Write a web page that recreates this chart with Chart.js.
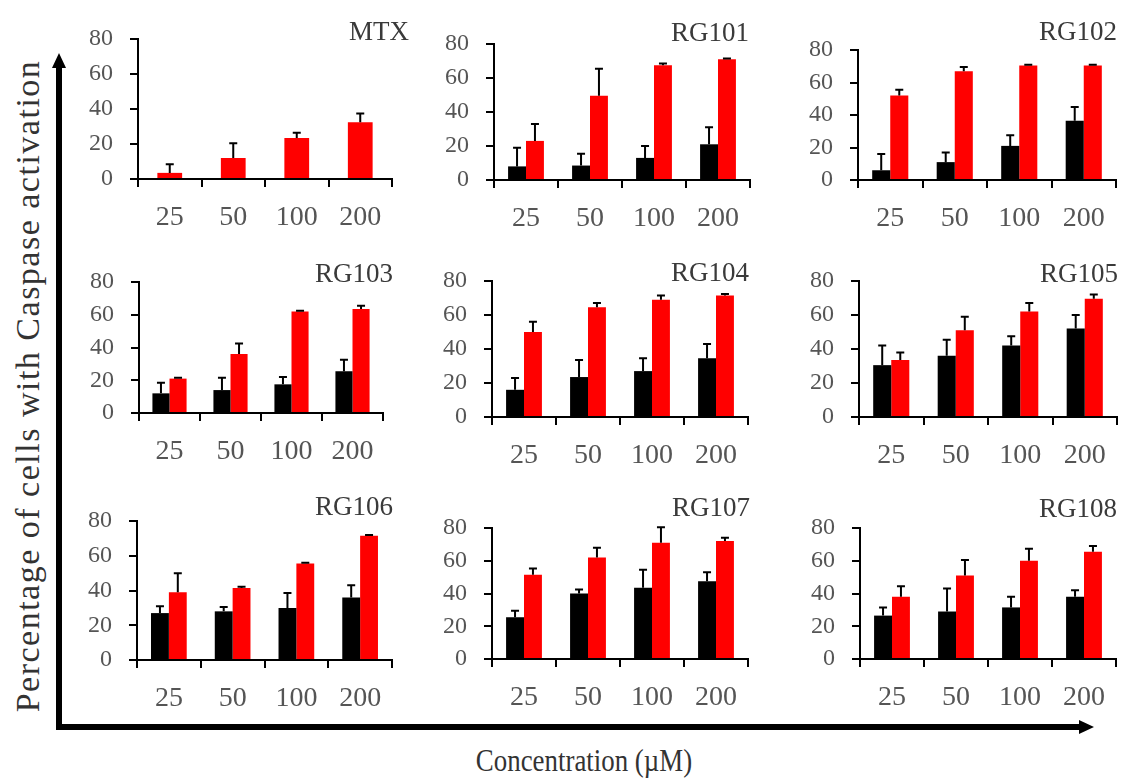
<!DOCTYPE html>
<html>
<head>
<meta charset="utf-8">
<script src="https://cdn.jsdelivr.net/npm/chart.js@4.4.0/dist/chart.umd.min.js"></script>
<style>
    body { margin: 0; background: #fff; width: 1123px; height: 781px; position: relative; overflow: hidden; font-family: 'Liberation Serif', serif; }
    canvas.panel { position: absolute; }
    #arrows { position: absolute; left: 0; top: 0; }
    #ylab, #xlab { position: absolute; white-space: nowrap; color: #333; }
    #ylab { left: 28px; top: 386px; font-size: 34px; letter-spacing: 1.5px; transform: translate(-50%, -50%) rotate(-90deg); }
    #xlab { left: 584px; top: 760px; font-size: 32px; transform: translate(-50%, -50%) scaleX(0.84); }
</style>
</head>
<body>
<svg id="arrows" width="1123" height="781">
    <line x1="59" y1="730" x2="59" y2="64" stroke="#000" stroke-width="6"/>
    <polygon points="59,53 52,68 66,68" fill="#000"/>
    <line x1="56" y1="727" x2="1082" y2="727" stroke="#000" stroke-width="6"/>
    <polygon points="1094,727 1079,720 1079,734" fill="#000"/>
</svg>
<div id="ylab">Percentage of cells with Caspase activation</div>
<div id="xlab">Concentration (µM)</div>

<script>
const concentrations = ['25', '50', '100', '200'];
const compounds = ['MTX', 'RG101', 'RG102', 'RG103', 'RG104', 'RG105', 'RG106', 'RG107', 'RG108'];
const yMin = 0;
const yMax = 80;
const yStep = 20;

// black bars (MTX has none)
const blackMeans = [
    null,
    [8, 8.5, 13, 21],
    [6, 11, 21, 36.5],
    [12, 14, 17.5, 25.5],
    [16, 23.5, 27, 34.5],
    [30.5, 36, 42, 52],
    [27, 28, 30, 36],
    [25.5, 40, 43.5, 47.5],
    [26.5, 29, 31.5, 38]
];
const blackErrs = [
    null,
    [11, 7, 7, 10],
    [10, 6, 6.5, 8.5],
    [6.5, 7.5, 4.5, 7],
    [7, 10, 7.5, 8.5],
    [11.5, 9.5, 5.5, 8],
    [4, 2.5, 8.5, 7],
    [4, 2.5, 11, 5.5],
    [5, 14, 6.5, 4]
];
// red bars
const redMeans = [
    [3.5, 12, 23.5, 32.5],
    [23, 49.5, 67.5, 71],
    [52, 67, 70.5, 70.5],
    [21, 36, 62, 63.5],
    [50, 64.5, 69, 71.5],
    [33.5, 51, 62, 69.5],
    [39, 41.5, 55.5, 71.5],
    [51.5, 62, 71, 72],
    [38, 51, 60, 65.5]
];
const redErrs = [
    [5, 8.5, 3, 5],
    [10, 16, 1, 0.5],
    [3.5, 2.5, 0.5, 0.5],
    [0.5, 6.5, 0.5, 2],
    [6, 2.5, 2.5, 0.8],
    [4.5, 8, 5, 2.5],
    [11, 0.6, 0.4, 0.4],
    [3.7, 6, 9.5, 2],
    [6.5, 9.5, 7.3, 3.5]
];

// page layout: plot area [left, top, right, bottom] and title anchor [right, baseline]
const plotBoxes = [
    [138, 39, 392, 179], [494, 44, 750, 180], [858, 50, 1116, 180],
    [139, 282, 383, 413], [492, 281, 748, 417], [859, 281, 1117, 417],
    [137, 521, 392, 660], [492, 528, 748, 659], [860, 528, 1116, 659]
];
const titleAnchors = [
    [409, 40], [749, 41], [1117, 40],
    [393, 282], [749, 281], [1118, 282],
    [393, 515], [750, 516], [1117, 517]
];

const ML = 70, MT = 45, MR = 30, MB = 60;

// upward-only error bars with a cap
const errorBars = {
    id: 'errorBars',
    afterDatasetsDraw(chart) {
        const ctx = chart.ctx;
        const yScale = chart.scales.y;
        ctx.save();
        ctx.strokeStyle = '#000';
        ctx.lineWidth = 2;
        chart.data.datasets.forEach((ds, i) => {
            const meta = chart.getDatasetMeta(i);
            meta.data.forEach((bar, j) => {
                const top = yScale.getPixelForValue(ds.data[j] + ds.errors[j]);
                ctx.beginPath();
                ctx.moveTo(bar.x, bar.y);
                ctx.lineTo(bar.x, top);
                ctx.moveTo(bar.x - 4, top);
                ctx.lineTo(bar.x + 4, top);
                ctx.stroke();
            });
        });
        ctx.restore();
    }
};

// panel title, right aligned near the top right of the plot
const panelTitle = {
    id: 'panelTitle',
    afterDraw(chart, args, opts) {
        const ctx = chart.ctx;
        ctx.save();
        ctx.font = '27px "Liberation Serif", serif';
        ctx.fillStyle = '#3a3a3a';
        ctx.textAlign = 'right';
        ctx.textBaseline = 'alphabetic';
        ctx.fillText(opts.text, opts.x, opts.y);
        ctx.restore();
    }
};

compounds.forEach((name, i) => {
    const [L, T, R, B] = plotBoxes[i];
    const canvas = document.createElement('canvas');
    canvas.className = 'panel';
    const w = R - L + ML + MR;
    const h = B - T + MT + MB;
    canvas.width = w;
    canvas.height = h;
    canvas.style.left = (L - ML) + 'px';
    canvas.style.top = (T - MT) + 'px';
    canvas.style.width = w + 'px';
    canvas.style.height = h + 'px';
    document.body.appendChild(canvas);

    const datasets = [];
    if (blackMeans[i]) {
        datasets.push({
            data: blackMeans[i],
            errors: blackErrs[i],
            backgroundColor: '#000',
            categoryPercentage: 0.56,
            barPercentage: 1.0
        });
    }
    datasets.push({
        data: redMeans[i],
        errors: redErrs[i],
        backgroundColor: '#ff0000',
        categoryPercentage: blackMeans[i] ? 0.56 : 0.39,
        barPercentage: 1.0
    });

    new Chart(canvas.getContext('2d'), {
        type: 'bar',
        data: { labels: concentrations, datasets: datasets },
        options: {
            responsive: false,
            animation: false,
            layout: { padding: { top: MT, right: MR, left: 0, bottom: 0 } },
            plugins: {
                legend: { display: false },
                tooltip: { enabled: false },
                panelTitle: { text: name, x: titleAnchors[i][0] - (L - ML), y: titleAnchors[i][1] - (T - MT) }
            },
            scales: {
                x: {
                    afterFit: (scale) => { scale.height = MB; },
                    grid: { offset: true, drawOnChartArea: false, drawTicks: true, tickLength: 8, color: '#000', lineWidth: 2 },
                    border: { display: true, color: '#000', width: 2 },
                    ticks: { color: '#555', padding: 14, font: { family: '"Liberation Serif", serif', size: 28 } }
                },
                y: {
                    min: yMin,
                    max: yMax,
                    afterFit: (scale) => { scale.width = ML; },
                    grid: { drawOnChartArea: false, drawTicks: true, tickLength: 8, color: '#000', lineWidth: 2 },
                    border: { display: true, color: '#000', width: 2 },
                    ticks: { stepSize: yStep, color: '#555', padding: 17, font: { family: '"Liberation Serif", serif', size: 24 } }
                }
            }
        },
        plugins: [errorBars, panelTitle]
    });
});
</script>
</body>
</html>
